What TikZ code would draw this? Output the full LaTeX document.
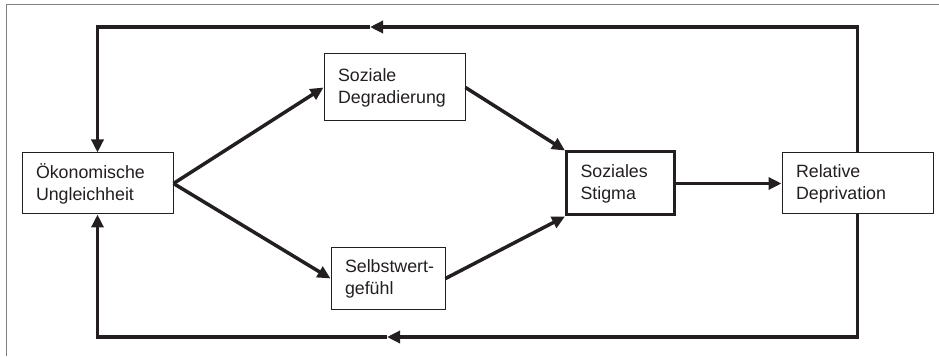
\documentclass[tikz,border=0pt]{standalone}
\usepackage{fontspec}
\setmainfont{Liberation Sans}
\usetikzlibrary{arrows.meta}
\definecolor{ink}{RGB}{35,31,32}
\tikzset{
  box/.style={draw=ink,line width=1pt,fill=white,align=left,inner xsep=14pt,
    minimum height=61pt,text=ink,font=\fontsize{17.8}{22}\selectfont},
  mainbox/.style={box,line width=3pt},
  flow/.style={draw=ink,line width=3.5pt,-{Triangle[length=13pt,width=12pt]}},
  loopline/.style={draw=ink,line width=3.5pt}
}
\begin{document}
\begin{tikzpicture}[x=1pt,y=1pt]
  \useasboundingbox (0,0) rectangle (939,356);
  \draw [gray,line width=1pt] (6,0) -- (6,351) -- (939,351);
  \node [box,text width=123pt] (oek) at (97.5,172.5) {Ökonomische\\Ungleichheit};
  \node [box,text width=113pt,minimum height=67pt] (degr) at (394.5,268.5) {Soziale\\Degradierung};
  \node [box,text width=86pt] (selbst) at (388,77.5) {\mbox{Selbstwert-}\\gefühl};
  \node [mainbox,text width=80pt,minimum height=63pt] (stigma) at (620.5,172.5) {Soziales\\Stigma};
  \node [box,text width=123pt] (rel) at (857.5,172.5) {Relative\\Deprivation};
  \coordinate (topmid) at (370,329);
  \coordinate (botmid) at (387,19);
  \draw [flow] (oek.east) -- (degr.west);
  \draw [flow] (oek.east) -- (selbst.west);
  \draw [flow] (degr.east) -- (stigma.north west);
  \draw [flow] (selbst.east) -- (stigma.south west);
  \draw [flow] (stigma.east) -- (rel.west);
  \draw [flow] (rel.north) |- (topmid);
  \draw [flow] (topmid) -| (oek.north);
  \draw [flow] (rel.south) |- (botmid);
  \draw [flow] (botmid) -| (oek.south);
\end{tikzpicture}
\end{document}
